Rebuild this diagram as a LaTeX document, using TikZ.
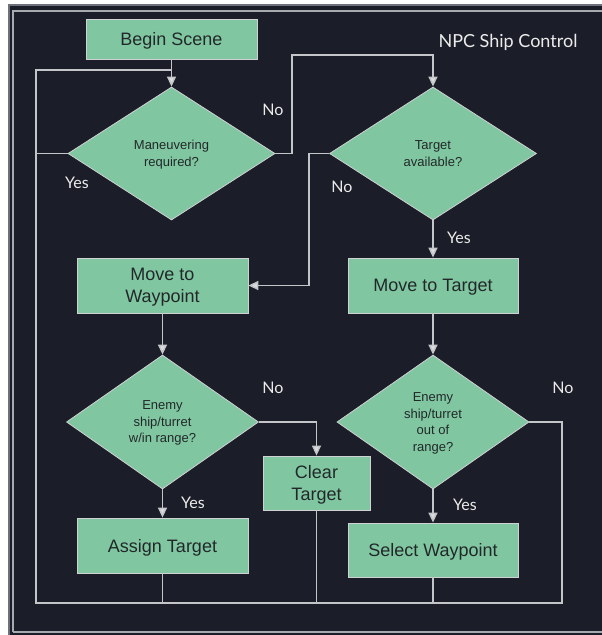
\documentclass[tikz,border=0pt]{standalone}
\usepackage{fontspec}
\setmainfont{Liberation Sans}
\newfontfamily\lato{Lato}
\usetikzlibrary{shapes.geometric,arrows.meta,calc}

\definecolor{panel}{HTML}{1B1E28}
\definecolor{edge}{HTML}{6E7179}
\definecolor{frameln}{HTML}{A8AAAF}
\definecolor{mint}{HTML}{80C7A1}
\definecolor{wire}{HTML}{C4C5C8}
\definecolor{ink}{HTML}{22282A}

\tikzset{
  stepbox/.style={rectangle, draw=wire!80!white, line width=0.8pt, fill=mint,
    text=ink, font=\fontsize{18}{22}\selectfont, align=center, inner sep=0pt,
    text depth=0pt},
  decision/.style={diamond, draw=wire!80!white, line width=0.8pt, fill=mint,
    text=ink, font=\fontsize{13}{16.5}\selectfont, align=center, inner sep=0pt,
    text depth=0pt},
  wireln/.style={draw=wire, line width=1.5pt},
  flow/.style={wireln, -{Triangle[width=9pt,length=10pt,fill=wire!60!white]}},
  tag/.style={text=white!92!black, font=\lato\fontsize{16}{18}\selectfont, inner sep=0pt},
}

\begin{document}
\begin{tikzpicture}[x=1pt,y=-1pt]
  % page and panel
  \fill[white] (0,0) rectangle (602,635);
  \useasboundingbox (0,0) rectangle (602,635);
  \fill[panel] (8,4) rectangle (640,640);
  \draw[edge, line width=1.6pt] (8.8,640) -- (8.8,4.8) -- (640,4.8);
  \draw[frameln, line width=1.5pt] (13,632) -- (13,11) -- (640,11);
  \draw[frameln, line width=1.5pt] (13,632) -- (640,632);

  % title
  \node[tag, font=\lato\fontsize{18}{20}\selectfont] (title) at (508,42) {NPC Ship Control};

  % process steps
  \node[stepbox, minimum width=171pt, minimum height=40pt] (begin) at (171.5,39) {Begin Scene};
  \node[stepbox, minimum width=171pt, minimum height=55pt] (mwp) at (162.5,285.5) {Move to\\Waypoint};
  \node[stepbox, minimum width=170pt, minimum height=55pt] (mt) at (433,285.5) {Move to Target};
  \node[stepbox, minimum width=107pt, minimum height=54pt] (clear) at (316.5,483) {Clear\\Target};
  \node[stepbox, minimum width=171pt, minimum height=55pt] (assign) at (162.5,545.5) {Assign Target};
  \node[stepbox, minimum width=170pt, minimum height=54pt] (sel) at (433,550) {Select Waypoint};

  % decisions
  \node[decision, minimum width=207pt, minimum height=133pt] (d1) at (171.5,153.5) {Maneuvering\\required?};
  \node[decision, minimum width=207pt, minimum height=133pt] (d2) at (433,153.5) {Target\\available?};
  \node[decision, minimum width=192pt, minimum height=134pt] (d3) at (162.5,422) {Enemy\\ship/turret\\w/in range?};
  \node[decision, minimum width=192pt, minimum height=134pt] (d4) at (433,422) {Enemy\\ship/turret\\out of\\range?};

  % routing points
  \coordinate (lbot) at (36,603);
  \coordinate (rbot) at (562,603);
  \coordinate (join) at (171.5,70);
  \coordinate (noup) at (292,55);
  \coordinate (nodn) at (309,153.5);

  % connectors
  \draw[flow] (begin.south) -- (d1.north);
  \draw[wireln] (d4.east) -| (rbot) -- (lbot) |- (join);
  \draw[wireln] (d1.west) -- (d1.west -| lbot);
  \draw[wireln] (assign.south) -- (assign.south |- lbot);
  \draw[wireln] (clear.south) -- (clear.south |- lbot);
  \draw[wireln] (sel.south) -- (sel.south |- lbot);
  \draw[flow] (d1.east) -| (noup) -| (d2.north);
  \draw[flow] (d2.west) -- (nodn) |- (mwp.east);
  \draw[flow] (d2.south) -- (mt.north);
  \draw[flow] (mwp.south) -- (d3.north);
  \draw[flow] (mt.south) -- (d4.north);
  \draw[flow] (d3.east) -| (clear.north);
  \draw[flow] (d3.south) -- (assign.north);
  \draw[flow] (d4.south) -- (sel.north);

  % branch labels
  \node[tag] (n1) at (273,110) {No};
  \node[tag] (y1) at (77,183) {Yes};
  \node[tag] (n2) at (342,187) {No};
  \node[tag] (y2) at (459,238) {Yes};
  \node[tag] (n3) at (273,388) {No};
  \node[tag] (y3) at (193,503) {Yes};
  \node[tag] (n4) at (563,388) {No};
  \node[tag] (y4) at (465,505) {Yes};
\end{tikzpicture}
\end{document}
